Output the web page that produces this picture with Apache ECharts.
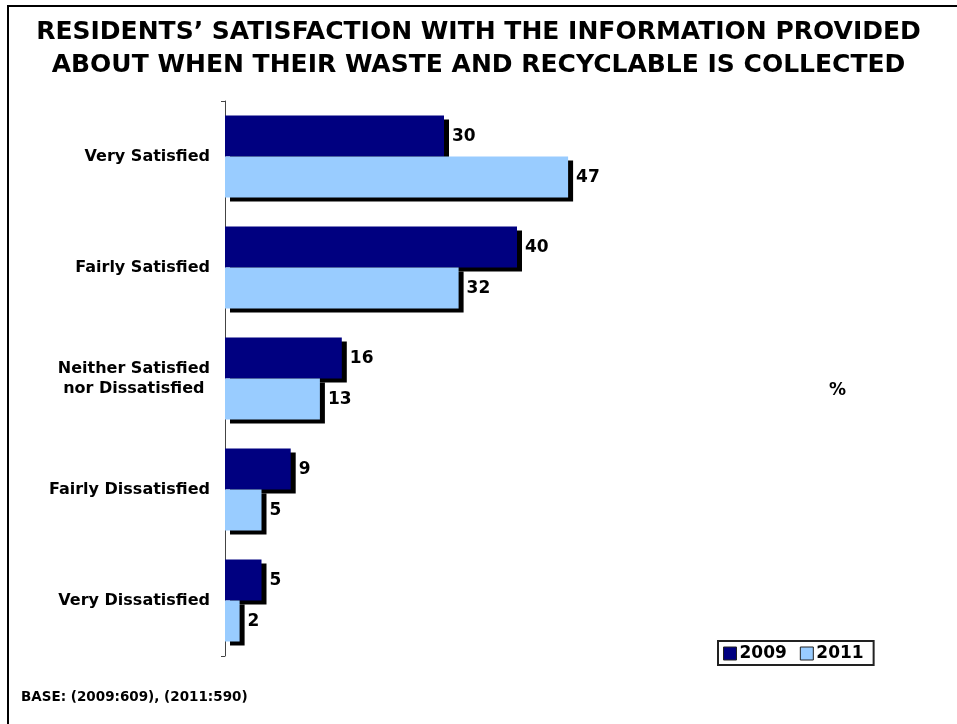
<!DOCTYPE html>
<html>
<head>
<meta charset="utf-8">
<script src="https://cdn.jsdelivr.net/npm/echarts@6/dist/echarts.min.js"></script>
<style>html,body{margin:0;padding:0;background:#fff;}#c{width:957px;height:724px;}</style>
</head>
<body>
<div id="c"></div>
<script>
const categories = ['Very Satisfied', 'Fairly Satisfied', 'Neither Satisfied\nnor Dissatisfied ', 'Fairly Dissatisfied', 'Very Dissatisfied'];
const seriesNames = ['2009', '2011'];
const values2009 = [30, 40, 16, 9, 5];
const values2011 = [47, 32, 13, 5, 2];
const titleLines = ['RESIDENTS\u2019 SATISFACTION WITH THE INFORMATION PROVIDED', 'ABOUT WHEN THEIR WASTE AND RECYCLABLE IS COLLECTED'];
const baseNote = 'BASE: (2009:609), (2011:590)';
const unitLabel = '%';

const FONT = '"DejaVu Sans", Verdana, sans-serif';
const chart = echarts.init(document.getElementById('c'), null, {renderer: 'canvas'});

function barSeries(name, data, color) {
  return {
    name: name,
    type: 'bar',
    data: data,
    barWidth: 41,
    barGap: '0%',
    itemStyle: {
      color: color,
      borderWidth: 0,
      shadowColor: '#000000',
      shadowBlur: 0,
      shadowOffsetX: 5,
      shadowOffsetY: 4
    },
    label: {
      show: true,
      position: 'right',
      distance: 8,
      color: '#000',
      fontFamily: FONT,
      fontWeight: 'bold',
      fontSize: 17,
      offset: [0, 1]
    },
    emphasis: {disabled: true}
  };
}

chart.setOption({
  animation: false,
  backgroundColor: '#fff',
  title: {
    text: titleLines.join('\n'),
    left: 'center',
    top: 11,
    textStyle: {fontFamily: FONT, fontWeight: 'bold', fontSize: 25, lineHeight: 33, color: '#000'}
  },
  legend: {
    data: seriesNames,
    left: 718,
    top: 641,
    orient: 'horizontal',
    padding: [4, 10, 3, 5],
    itemGap: 13,
    itemWidth: 13,
    itemHeight: 13,
    icon: 'rect',
    borderColor: '#222',
    borderWidth: 2,
    itemStyle: {borderColor: '#222', borderWidth: 1, shadowColor: 'transparent', shadowOffsetX: 0, shadowOffsetY: 0},
    textStyle: {fontFamily: FONT, fontWeight: 'bold', fontSize: 17, color: '#000', padding: [0, 0, 0, -2]}
  },
  grid: {left: 225, top: 101, width: 584, height: 555, containLabel: false},
  xAxis: {
    type: 'value',
    min: 0,
    max: 80,
    show: false
  },
  yAxis: {
    type: 'category',
    data: categories,
    inverse: true,
    axisLine: {show: true, lineStyle: {color: '#444', width: 1}},
    axisTick: {show: true, length: 4, interval: function (i) { return i === 0; }, lineStyle: {color: '#444'}},
    axisLabel: {
      margin: 15,
      color: '#000',
      fontFamily: FONT,
      fontWeight: 'bold',
      fontSize: 16,
      lineHeight: 20,
      align: 'right'
    },
    splitLine: {show: false}
  },
  series: [
    barSeries(seriesNames[0], values2009, '#000080'),
    barSeries(seriesNames[1], values2011, '#99CCFF')
  ],
  graphic: [
    {type: 'rect', shape: {x: 8, y: 6, width: 1200, height: 1200}, style: {fill: 'none', stroke: '#000', lineWidth: 2}, silent: true, z: 100},
    {type: 'text', left: 829, top: 382, style: {text: unitLabel, fontFamily: FONT, fontWeight: 'bold', fontSize: 17, fill: '#000'}},
    {type: 'text', left: 21, top: 690, style: {text: baseNote, fontFamily: FONT, fontWeight: 'bold', fontSize: 13.5, fill: '#000'}}
  ]
});
</script>
</body>
</html>
